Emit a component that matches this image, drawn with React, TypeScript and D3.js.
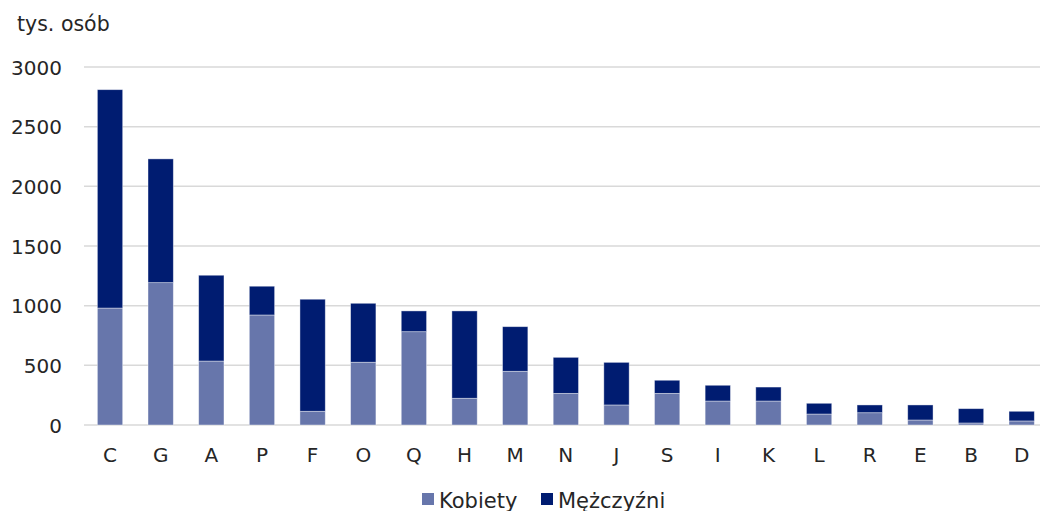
import { useEffect, useRef } from "react";
import * as d3 from "d3";

const categories = ["C", "G", "A", "P", "F", "O", "Q", "H", "M", "N", "J", "S", "I", "K", "L", "R", "E", "B", "D"];
const kobiety = [980, 1193, 536, 922, 115, 526, 782, 224, 450, 265, 168, 265, 201, 201, 92, 103, 42, 17, 34];
const totals = [2810, 2230, 1255, 1163, 1054, 1020, 956, 956, 824, 567, 525, 375, 333, 318, 182, 168, 168, 137, 115];
const mezczyzni = totals.map((t, i) => t - kobiety[i]);
const yTicks = [0, 500, 1000, 1500, 2000, 2500, 3000];

const series = ["Kobiety", "Mężczyźni"];
const colors = ["#6776AB", "#001C71"];

const App = () => {
  const svgRef = useRef(null);

  useEffect(() => {
    if (!svgRef.current) return;
    const svg = d3.select(svgRef.current);
    svg.selectAll("*").remove();

    const W = 1040;
    const H = 511;
    const font = "'DejaVu Sans', sans-serif";
    const textColor = "#262626";

    const x = d3.scaleBand().domain(categories).range([84.7, 1047]).paddingInner(0.5).paddingOuter(0.25);
    const y = d3.scaleLinear().domain([0, 3000]).range([425, 67]);

    svg.attr("width", W).attr("height", H);

    // gridlines
    svg
      .append("g")
      .selectAll("line")
      .data(yTicks)
      .join("line")
      .attr("x1", 84)
      .attr("x2", W)
      .attr("y1", (d) => y(d))
      .attr("y2", (d) => y(d))
      .attr("stroke", "#D9D9D9")
      .attr("stroke-width", 1.5);

    // y tick labels
    svg
      .append("g")
      .selectAll("text")
      .data(yTicks)
      .join("text")
      .attr("x", 62)
      .attr("y", (d) => y(d) + 7.5)
      .attr("text-anchor", "end")
      .attr("font-family", font)
      .attr("font-size", 20)
      .attr("fill", textColor)
      .text((d) => d);

    svg
      .append("text")
      .attr("x", 17)
      .attr("y", 31)
      .attr("font-family", font)
      .attr("font-size", 20.5)
      .attr("fill", textColor)
      .text("tys. osób");

    // bars
    const stack = categories.map((c, i) => ({ c, k: kobiety[i], m: mezczyzni[i] }));
    const bars = svg.append("g");
    stack.forEach((d) => {
      bars
        .append("rect")
        .attr("x", x(d.c)!)
        .attr("width", x.bandwidth())
        .attr("y", y(d.k))
        .attr("height", y(0) - y(d.k))
        .attr("fill", colors[0])
        .attr("stroke", "#ffffff")
        .attr("stroke-opacity", 0.5)
        .attr("stroke-width", 0.8);
      bars
        .append("rect")
        .attr("x", x(d.c)!)
        .attr("width", x.bandwidth())
        .attr("y", y(d.k + d.m))
        .attr("height", y(d.k) - y(d.k + d.m))
        .attr("fill", colors[1])
        .attr("stroke", "#ffffff")
        .attr("stroke-opacity", 0.5)
        .attr("stroke-width", 0.8);
    });

    // x labels
    svg
      .append("g")
      .selectAll("text")
      .data(categories)
      .join("text")
      .attr("x", (d) => x(d)! + x.bandwidth() / 2)
      .attr("y", 462)
      .attr("text-anchor", "middle")
      .attr("font-family", font)
      .attr("font-size", 20)
      .attr("fill", textColor)
      .text((d) => d);

    // legend
    const legend = svg.append("g");
    const lx = [422, 541];
    series.forEach((s, i) => {
      legend
        .append("rect")
        .attr("x", lx[i])
        .attr("y", 493)
        .attr("width", 12)
        .attr("height", 12)
        .attr("fill", colors[i]);
      legend
        .append("text")
        .attr("x", lx[i] + 17)
        .attr("y", 507.5)
        .attr("font-family", font)
        .attr("font-size", 21)
        .attr("fill", textColor)
        .text(s);
    });
  }, []);

  return (
    <div style={{ position: "absolute", left: 0, top: 0, width: 1040, height: 511 }}>
      <svg ref={svgRef} style={{ display: "block" }} />
    </div>
  );
};

export default App;
